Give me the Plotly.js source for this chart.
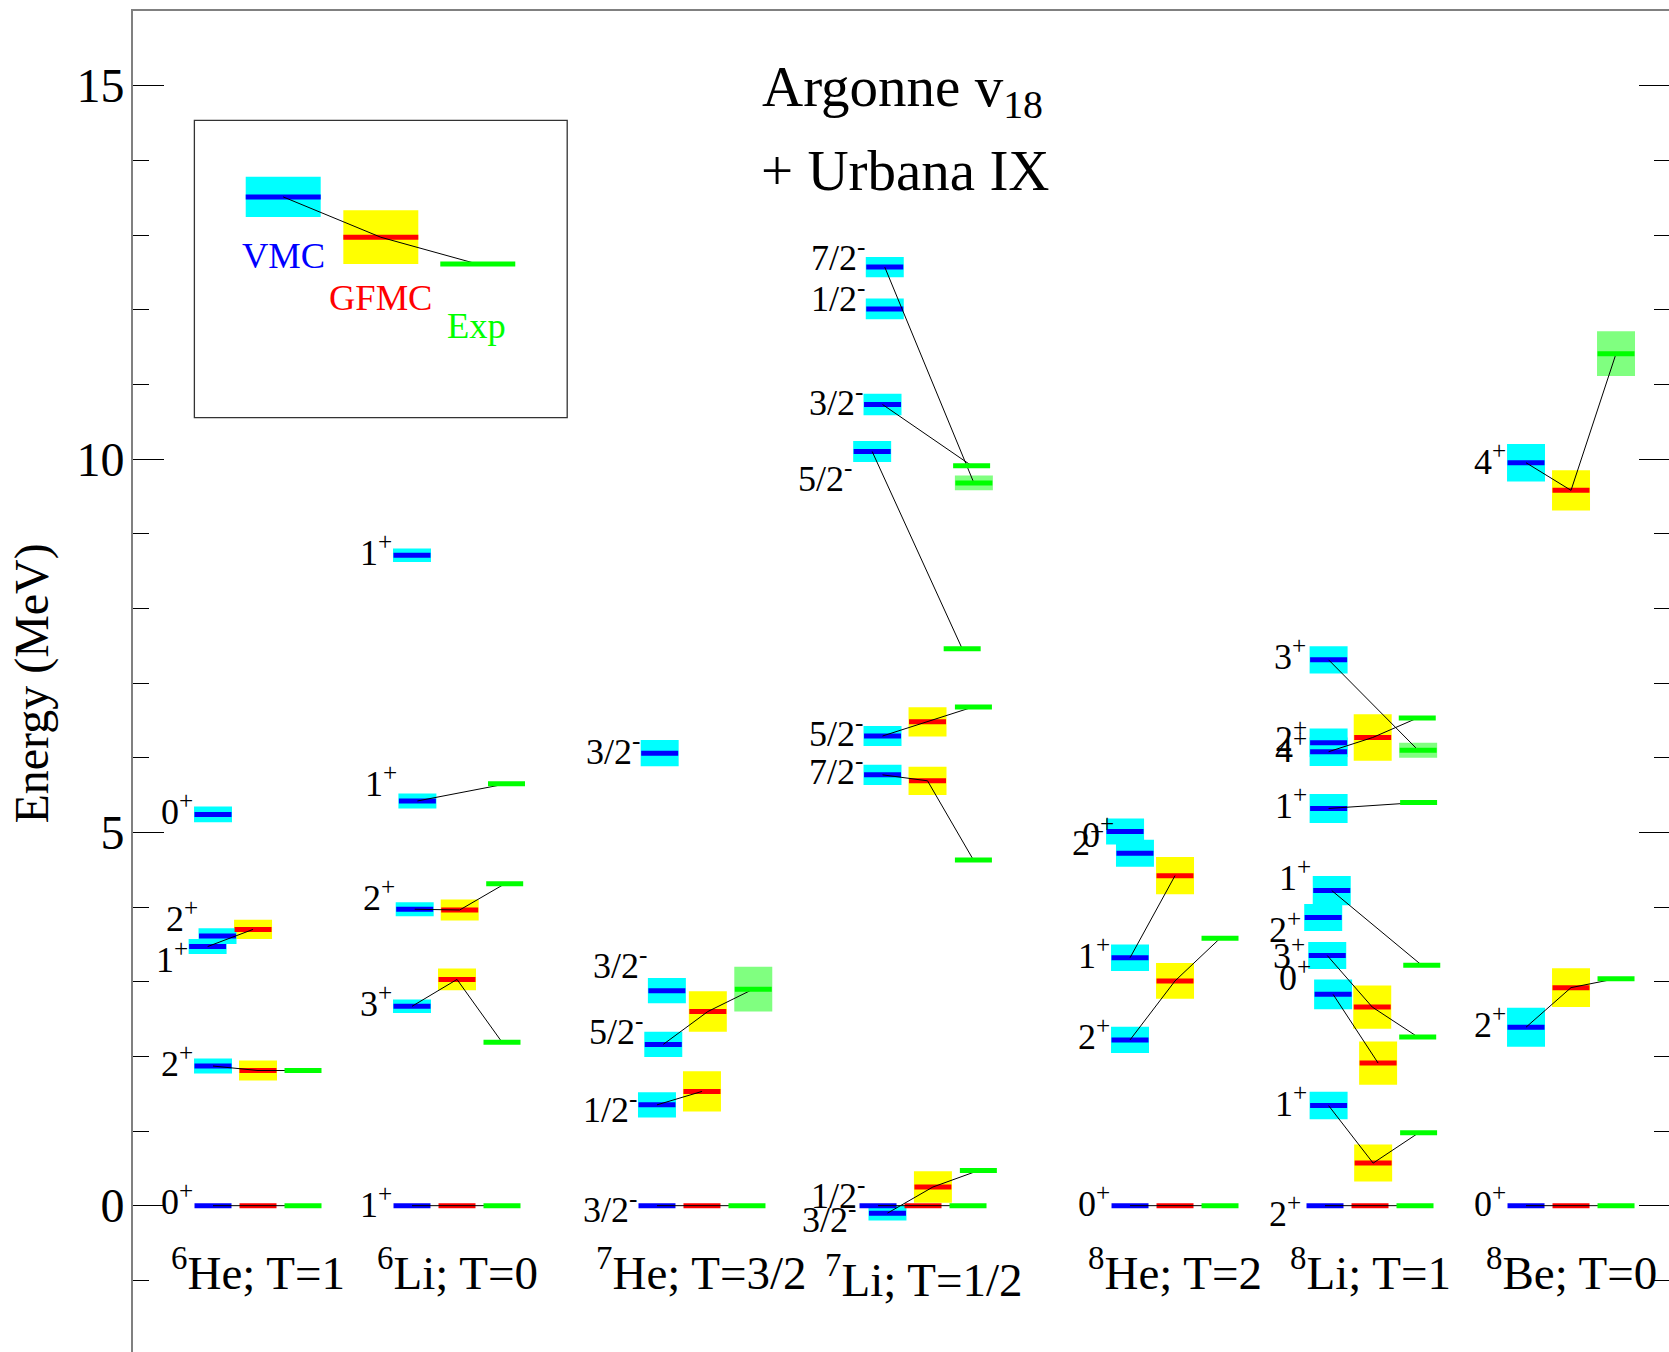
<!DOCTYPE html>
<html>
<head>
<meta charset="utf-8">
<script src="https://cdn.plot.ly/plotly-3.0.1.min.js"></script>
<style>html,body{margin:0;padding:0;overflow:hidden;background:#fff}</style>
</head>
<body>
<div id="chart" style="width:1672px;height:1355px"></div>
<script>
// ---------------- data (energies in MeV) ----------------
const nuclei = ['<sup>6</sup>He; T=1', '<sup>6</sup>Li; T=0', '<sup>7</sup>He; T=3/2', '<sup>7</sup>Li; T=1/2',
                '<sup>8</sup>He; T=2', '<sup>8</sup>Li; T=1', '<sup>8</sup>Be; T=0'];
const levelNucleus = [0,0,0,0,0, 1,1,1,1,1, 2,2,2,2,2, 3,3,3,3,3,3,3,3, 4,4,4,4,4, 5,5,5,5,5,5,5,5,5,5, 6,6,6];
const levelLabel = ['0+','2+','1+','2+','0+',
                    '1+','3+','2+','1+','1+',
                    '3/2-','1/2-','5/2-','3/2-','3/2-',
                    '3/2-','1/2-','7/2-','5/2-','5/2-','3/2-','1/2-','7/2-',
                    '0+','2+','1+','2+','0+',
                    '2+','1+','0+','3+','2+','1+','1+','2+','4+','3+',
                    '0+','2+','4+'];
const vmcE    = [0,1.87,3.47,3.61,5.24, 0,2.67,3.97,5.42,8.71, 0,1.35,2.16,2.88,6.06,
                 0,-0.10,5.77,6.29,10.10,10.73,12.01,12.57, 0,2.22,3.32,4.72,5.01,
                 0,1.34,2.83,3.35,3.86,4.22,5.32,6.20,6.08,7.31, 0,2.39,9.95];
const vmcErr  = [0,0.10,0.10,0.105,0.105, 0,0.09,0.095,0.10,0.09, 0,0.17,0.17,0.17,0.175,
                 0,0.10,0.135,0.135,0.14,0.143,0.14,0.136, 0,0.175,0.178,0.18,0.174,
                 0,0.184,0.198,0.18,0.18,0.195,0.195,0.19,0.19,0.183, 0,0.26,0.25];
const gfmcE   = [0,1.81,3.70,null,null, 0,3.03,3.96,null,null, 0,1.53,2.60,null,null,
                 0,0.25,5.69,6.48,null,null,null,null, 0,3.01,4.42,null,null,
                 0,0.57,1.91,2.66,null,null,null,null,6.27,null, 0,2.92,9.58];
const gfmcErr = [0,0.135,0.13,0,0, 0,0.145,0.14,0,0, 0,0.27,0.27,0,0,
                 0,0.21,0.19,0.195,0,0,0,0, 0,0.24,0.25,0,0,
                 0,0.248,0.29,0.29,0,0,0,0,0.31,0, 0,0.26,0.27];
const expE    = [0,1.81,null,null,null, 0,2.19,4.31,5.65,null, 0,null,2.90,null,null,
                 0,0.47,4.63,6.68,7.46,9.91,null,9.68, 0,3.58,null,null,null,
                 0,0.975,null,2.26,null,3.22,5.40,null,6.53,6.10, 0,3.04,11.41];
const expErr  = [0,0,0,0,0, 0,0,0,0,0, 0,0,0.30,0,0,
                 0,0,0,0,0,0,0,0.098, 0,0,0,0,0,
                 0,0,0,0,0,0,0,0,0,0.10, 0,0,0.30];
const legendNames = ['VMC','GFMC','Exp'];
const legendE     = [13.51, 12.97, 12.61];
const legendErr   = [0.27, 0.36, 0];
const yTickVals   = [0, 5, 10, 15];

// ---------------- layout positions (column units, 1 unit = one method column) ----------------
const nucleusX = [2.778, 7.2, 12.644, 17.556, 23.156, 27.489, 31.956]; // GFMC column of each nucleus
const vmcDx   = [0,0,-0.12,0.10,0, 0,0,0.06,0.12,0, 0,0,0.14,0.22,0.06,
                 0,0.21,0.10,0.10,-0.13,0.10,0.15,0.15, 0,0,0,0.11,-0.11,
                 0,0.08,0.18,0.05,-0.04,0.15,0.08,0.08,0.08,0.08, 0,0,0];
const gfmcDx  = [0,0,-0.11,0,0, 0,0,0.06,0,0, 0,0,0.13,0,0,
                 0,0.22,0.10,0.10,0,0,0,0, 0,0,0,0,0,
                 0,0.07,0.18,0.05,0,0,0,0,0.06,0, 0,0,0];
const expDx   = [0,0,0,0,0, 0,0,0.06,0.10,0, 0,0,0.14,0,0,
                 0,0.23,0.12,0.12,-0.13,0.08,0,0.13, 0,0,0,0,0,
                 0,0.08,0,0.06,0,0.15,0.08,0,0.05,0.07, 0,0,0];
const labelDx = [0,0,-0.12,0.10,0, 0,0,0.06,0.12,0, 0,0,0.14,0.22,0.06,
                 -0.04,0.15,0.10,0.10,-0.13,0.10,0.15,0.15, 0,0,0,-0.14,0.08,
                 -0.08,0.05,0.13,0,-0.08,0.13,0.05,0.05,0.05,0.03, 0,0,0];
const labelDy = [0.03,0.01,-0.19,0.22,0.02, 0,0.02,0.13,0.21,0.02, -0.07,-0.08,0.15,0.31,0,
                 -0.20,0.21,0.03,0.01,-0.38,0,0.12,0.11, 0.01,0.02,0.01,0.12,-0.06,
                 -0.13,0.01,0.20,-0.02,-0.18,0.16,0.02,0.04,0.01,0.02, 0.01,0.02,0];
const nucleusLabelY = [-1.27,-1.27,-1.27,-1.355,-1.27,-1.27,-1.27];
const legendX = [3.338, 5.507, 7.662];
const legendTextX = [3.35, 5.50, 7.64];
const legendTextY = [12.44, 11.88, 11.50];
const legendBox = {x0: 1.364, x1: 9.649, y0: 10.554, y1: 14.535};

// ---------------- styles ----------------
const FONT = '"Liberation Serif", "Times New Roman", Times, serif';
const HALF_BOX = 0.422, HALF_LINE = 0.411, LEGEND_HALF = 0.833;
const C = {vmcBox:'#00ffff', vmcLine:'#0000ff', gfmcBox:'#ffff00', gfmcLine:'#ff0000',
           expBox:'#80ff80', expLine:'#00ff00'};
const LEVEL_W = 5;
const LABEL_SIZE = 36, LABEL_DROP = 0.267;

const boxes = [], lines = [], topLines = [];
function box(xc, half, e, err, color) {
  boxes.push({type:'rect', xref:'x', yref:'y', x0:xc-half, x1:xc+half, y0:e-err, y1:e+err,
              fillcolor:color, line:{width:0}, layer:'below'});
}
function lvl(xc, half, e, color, arr, layer) {
  arr.push({type:'line', xref:'x', yref:'y', x0:xc-half, x1:xc+half, y0:e, y1:e,
            line:{color:color, width:LEVEL_W}, layer:layer});
}

const connX = [], connY = [];
const annotations = [];
function fmtLabel(s) {
  const p = s.slice(-1), j = s.slice(0, -1);
  return j + '<sup>' + p + '</sup>';
}

for (let i = 0; i < levelNucleus.length; i++) {
  const n = levelNucleus[i];
  const xv = nucleusX[n] - 1 + vmcDx[i];
  const xg = nucleusX[n] + gfmcDx[i];
  const xe = nucleusX[n] + 1 + expDx[i];
  const pts = [];
  if (vmcE[i] !== null) {
    if (vmcErr[i] > 0) box(xv, HALF_BOX, vmcE[i], vmcErr[i], C.vmcBox);
    lvl(xv, HALF_LINE, vmcE[i], C.vmcLine, lines, 'below');
    pts.push([xv, vmcE[i]]);
  }
  if (gfmcE[i] !== null) {
    if (gfmcErr[i] > 0) box(xg, HALF_BOX, gfmcE[i], gfmcErr[i], C.gfmcBox);
    lvl(xg, HALF_LINE, gfmcE[i], C.gfmcLine, lines, 'below');
    pts.push([xg, gfmcE[i]]);
  }
  if (expE[i] !== null) {
    if (expErr[i] > 0) box(xe, HALF_BOX, expE[i], expErr[i], C.expBox);
    lvl(xe, HALF_LINE, expE[i], C.expLine, topLines, 'above');
    pts.push([xe, expE[i]]);
  }
  if (pts.length > 1) {
    pts.forEach(p => { connX.push(p[0]); connY.push(p[1]); });
    connX.push(null); connY.push(null);
  }
  annotations.push({
    xref:'x', yref:'y', x: nucleusX[n] - 1 - HALF_BOX + labelDx[i],
    y: vmcE[i] + labelDy[i] - LABEL_DROP,
    xanchor:'right', yanchor:'bottom', showarrow:false, borderpad:0,
    text: fmtLabel(levelLabel[i]), font:{family:FONT, size:LABEL_SIZE, color:'black'}
  });
}

// legend inset
const legendColors = [[C.vmcBox, C.vmcLine], [C.gfmcBox, C.gfmcLine], [C.expBox, C.expLine]];
const legendTextColors = ['#0000ff', '#ff0000', '#00ff00'];
for (let k = 0; k < legendNames.length; k++) {
  if (legendErr[k] > 0) box(legendX[k], LEGEND_HALF, legendE[k], legendErr[k], legendColors[k][0]);
  lvl(legendX[k], LEGEND_HALF, legendE[k], legendColors[k][1], k === 2 ? topLines : lines, k === 2 ? 'above' : 'below');
  connX.push(legendX[k]); connY.push(legendE[k]);
  annotations.push({xref:'x', yref:'y', x: legendTextX[k], y: legendTextY[k], xanchor:'center', yanchor:'bottom',
    showarrow:false, borderpad:0, text: legendNames[k], font:{family:FONT, size:36.5, color:legendTextColors[k]}});
}
connX.push(null); connY.push(null);

const frameShapes = [{type:'rect', xref:'x', yref:'y', x0:legendBox.x0, x1:legendBox.x1, y0:legendBox.y0, y1:legendBox.y1,
  line:{color:'#333', width:1.3}, fillcolor:'rgba(0,0,0,0)', layer:'below'}];

// nucleus names
nuclei.forEach((name, n) => {
  annotations.push({xref:'x', yref:'y', x: nucleusX[n], y: nucleusLabelY[n], xanchor:'center', yanchor:'bottom',
    showarrow:false, borderpad:0, text: name, font:{family:FONT, size:47, color:'black'}});
});

// title block
annotations.push({xref:'paper', yref:'paper', x:(761-133)/1537, y:1-(54-11)/1344, xanchor:'left', yanchor:'top',
  showarrow:false, borderpad:0, text:'Argonne v<sub>18</sub>', font:{family:FONT, size:57, color:'black'}});
annotations.push({xref:'paper', yref:'paper', x:(760-133)/1537, y:1-(138.5-11)/1344, xanchor:'left', yanchor:'top',
  showarrow:false, borderpad:0, text:'+ Urbana IX', font:{family:FONT, size:57, color:'black'}});
// y-axis title
annotations.push({xref:'paper', yref:'paper', x:(31.6-133)/1537, y:1-(684-11)/1344, xanchor:'center', yanchor:'middle',
  showarrow:false, textangle:-90, borderpad:0, text:'Energy (MeV)', font:{family:FONT, size:48, color:'black'}});

const traces = [{
  type:'scatter', mode:'lines', x: connX, y: connY, connectgaps:false,
  line:{color:'black', width:1}, hoverinfo:'skip', showlegend:false
}];

const layout = {
  width:1672, height:1355,
  margin:{l:133, r:2, t:11, b:0, pad:0},
  paper_bgcolor:'white', plot_bgcolor:'white',
  showlegend:false, hovermode:false,
  xaxis:{range:[0, 1537/45], showticklabels:false, ticks:'', showgrid:false, zeroline:false,
         showline:true, linecolor:'#808080', linewidth:2, mirror:true},
  yaxis:{range:[-2, 16], tickmode:'array', tickvals:yTickVals, ticktext:yTickVals.map(String),
         ticks:'inside', ticklen:31, tickwidth:1, tickcolor:'black', ticklabelstandoff:-3,
         minor:{dtick:1, tick0:0, ticks:'inside', ticklen:16, tickwidth:1, tickcolor:'black', showgrid:false},
         showgrid:false, zeroline:false, showline:true, linecolor:'#808080', linewidth:2, mirror:'ticks',
         tickfont:{family:FONT, size:48, color:'black'}},
  shapes: frameShapes.concat(boxes, lines, topLines),
  annotations: annotations
};

Plotly.newPlot('chart', traces, layout, {staticPlot:true, displayModeBar:false});
</script>
</body>
</html>
